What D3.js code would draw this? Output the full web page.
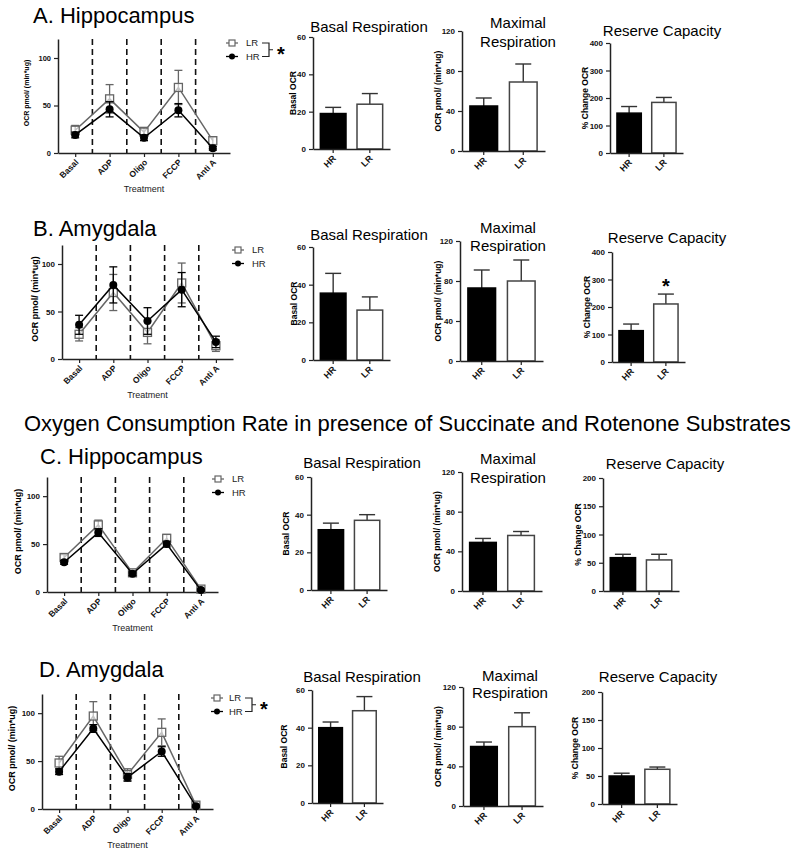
<!DOCTYPE html>
<html>
<head>
<meta charset="utf-8">
<script src="https://cdnjs.cloudflare.com/ajax/libs/d3/7.8.5/d3.min.js"></script>
<style>
  body { margin: 0; background: #fff; }
  svg { font-family: "Liberation Sans", Arial, sans-serif; }
</style>
</head>
<body>
<svg id="fig" width="800" height="859"></svg>
<script>
// categories
var treatments = ["Basal", "ADP", "Oligo", "FCCP", "Anti A"];
var groups = ["HR", "LR"];

// time course (mean, sem) per treatment
var hipLR = [24, 57, 22, 69, 13],   hipLRErr = [5, 15, 5, 18, 4];
var hipHR = [19, 46, 16, 45, 5],    hipHRErr = [3, 8, 3, 7, 2];
var amyLR = [26, 70, 28, 80, 14],   amyLRErr = [7, 19, 12, 21, 6];
var amyHR = [36, 78, 40, 73, 18],   amyHRErr = [10, 19, 14, 18, 6];
var hipSuccLR = [36, 70, 20, 56, 3], hipSuccLRErr = [3, 5, 2, 4, 1];
var hipSuccHR = [31, 62, 19, 50, 2], hipSuccHRErr = [2, 4, 2, 3, 1];
var amySuccLR = [48, 97, 36, 80, 4], amySuccLRErr = [7, 15, 6, 14, 2];
var amySuccHR = [39, 84, 33, 60, 3], amySuccHRErr = [3, 4, 4, 5, 1];

// summary bars [HR, LR]
var basalA = [19, 24],     basalAErr = [3.3, 5.7];
var maximalA = [45, 69],   maximalAErr = [8, 18];
var reserveA = [145, 184], reserveAErr = [24, 18];
var basalB = [35.5, 26.5], basalBErr = [10.5, 7];
var maximalB = [73, 80],   maximalBErr = [18, 21];
var reserveB = [114, 211], reserveBErr = [24, 36];
var basalC = [32, 37],     basalCErr = [3.5, 3];
var maximalC = [49, 56],   maximalCErr = [4, 4];
var reserveC = [59, 55],   reserveCErr = [6, 10];
var basalD = [40, 49],     basalDErr = [3, 7.5];
var maximalD = [60, 80],   maximalDErr = [4.5, 14];
var reserveD = [50, 62],   reserveDErr = [5, 4];

var lineTicks = [0, 50, 100];
var basalTicks = [0, 20, 40, 60];
var maximalTicks = [0, 40, 80, 120];
var reserveTicks400 = [0, 100, 200, 300, 400];
var reserveTicks200 = [0, 50, 100, 150, 200];

var svg = d3.select("#fig");
var AX = "#222";

var linePanels = [
  {title: "A. Hippocampus", tx: 33, ty: 23, x0: 58, x1: 230, y0: 153, y1: 39, lx: 27, lsize: "7px", tsize: "7.5px",
   lr: hipLR, lrErr: hipLRErr, hr: hipHR, hrErr: hipHRErr, legX: 232, legY: 43, legT: 246, star: true},
  {title: "B. Amygdala", tx: 33, ty: 236, x0: 62, x1: 233, y0: 359, y1: 245, lx: 35, lsize: "9px", tsize: "8px",
   lr: amyLR, lrErr: amyLRErr, hr: amyHR, hrErr: amyHRErr, legX: 238, legY: 250, legT: 252, star: false},
  {title: "C. Hippocampus", tx: 40, ty: 464, x0: 47, x1: 218, y0: 592, y1: 477, lx: 18, lsize: "9px", tsize: "8px",
   lr: hipSuccLR, lrErr: hipSuccLRErr, hr: hipSuccHR, hrErr: hipSuccHRErr, legX: 218, legY: 479, legT: 232, star: false},
  {title: "D. Amygdala", tx: 39, ty: 677, x0: 42, x1: 213, y0: 809, y1: 694, lx: 12, lsize: "9px", tsize: "8px",
   lr: amySuccLR, lrErr: amySuccLRErr, hr: amySuccHR, hrErr: amySuccHRErr, legX: 217, legY: 698, legT: 229, star: true}
];

var barPanels = [
  {title: ["Basal Respiration"], cx: 369, ty: [32], x0: 313, x1: 390, y0: 149, y1: 37, max: 60, ticks: basalTicks, label: "Basal  OCR", lx: 293, vals: basalA, errs: basalAErr},
  {title: ["Maximal", "Respiration"], cx: 518, ty: [28, 47], x0: 462, x1: 545, y0: 151, y1: 31, max: 120, ticks: maximalTicks, label: "OCR pmol/ (min*ug)", lx: 438, vals: maximalA, errs: maximalAErr},
  {title: ["Reserve Capacity"], cx: 662, ty: [36], x0: 610, x1: 683, y0: 153, y1: 43, max: 400, ticks: reserveTicks400, label: "%  Change  OCR", lx: 585, vals: reserveA, errs: reserveAErr},

  {title: ["Basal Respiration"], cx: 369, ty: [240], x0: 313, x1: 390, y0: 360, y1: 247, max: 60, ticks: basalTicks, label: "Basal  OCR", lx: 294, vals: basalB, errs: basalBErr},
  {title: ["Maximal", "Respiration"], cx: 508, ty: [233, 251], x0: 460, x1: 543, y0: 361, y1: 241, max: 120, ticks: maximalTicks, label: "OCR pmol/ (min*ug)", lx: 438, vals: maximalB, errs: maximalBErr},
  {title: ["Reserve Capacity"], cx: 667, ty: [243], x0: 612, x1: 685, y0: 362, y1: 252, max: 400, ticks: reserveTicks400, label: "% Change OCR", lx: 587, vals: reserveB, errs: reserveBErr, star: true},

  {title: ["Basal Respiration"], cx: 362, ty: [468], x0: 311, x1: 387, y0: 590, y1: 477, max: 60, ticks: basalTicks, label: "Basal  OCR", lx: 286, vals: basalC, errs: basalCErr},
  {title: ["Maximal", "Respiration"], cx: 508, ty: [464, 483], x0: 462, x1: 542, y0: 591, y1: 472, max: 120, ticks: maximalTicks, label: "OCR pmol/ (min*ug)", lx: 437, vals: maximalC, errs: maximalCErr},
  {title: ["Reserve Capacity"], cx: 665, ty: [469], x0: 603, x1: 679, y0: 591, y1: 478, max: 200, ticks: reserveTicks200, label: "%  Change  OCR", lx: 578, vals: reserveC, errs: reserveCErr},

  {title: ["Basal Respiration"], cx: 362, ty: [682], x0: 312, x1: 383, y0: 803, y1: 690, max: 60, ticks: basalTicks, label: "Basal  OCR", lx: 284, vals: basalD, errs: basalDErr},
  {title: ["Maximal", "Respiration"], cx: 510, ty: [681, 698], x0: 463, x1: 543, y0: 806, y1: 687, max: 120, ticks: maximalTicks, label: "OCR pmol/ (min*ug)", lx: 438, vals: maximalD, errs: maximalDErr},
  {title: ["Reserve Capacity"], cx: 658, ty: [682], x0: 602, x1: 677, y0: 804, y1: 692, max: 200, ticks: reserveTicks200, label: "%  Change  OCR", lx: 575, vals: reserveD, errs: reserveDErr}
];

function styleAxis(sel, size) {
  sel.select(".domain").attr("stroke", AX).attr("stroke-width", 1.5);
  sel.selectAll(".tick line").attr("stroke", AX).attr("stroke-width", 1.2);
  sel.selectAll(".tick text").attr("fill", "#111").style("font-weight", "bold").style("font-size", size);
}

function rotateLabels(sel, size) {
  sel.selectAll(".tick text")
      .attr("x", 0).attr("y", 0).attr("dy", "0.35em").attr("dx", "-1")
      .attr("transform", "translate(2,7) rotate(-45)")
      .style("text-anchor", "end")
      .style("font-size", size);
}

function yLabel(g, text, x, yc, size) {
  g.append("text")
      .attr("transform", "translate(" + x + "," + yc + ") rotate(-90)")
      .attr("dy", "0.35em")
      .attr("text-anchor", "middle")
      .style("font-size", size)
      .style("font-weight", "bold")
      .text(text);
}

function drawLine(p) {
  var g = svg.append("g");
  var x = d3.scalePoint().domain(treatments).range([p.x0, p.x1]).padding(0.5);
  var y = d3.scaleLinear().domain([0, 120]).range([p.y0, p.y1]);
  var step = x.step();

  g.append("text").attr("x", p.tx).attr("y", p.ty).style("font-size", "22px").text(p.title);

  // dashed treatment separators
  g.selectAll(".sep")
      .data(treatments.slice(1))
      .enter().append("line")
      .attr("x1", function(d) { return x(d) - step / 2; })
      .attr("x2", function(d) { return x(d) - step / 2; })
      .attr("y1", p.y1)
      .attr("y2", p.y0)
      .attr("stroke", "#111")
      .attr("stroke-width", 1.6)
      .attr("stroke-dasharray", "6,4");

  var xa = g.append("g")
      .attr("transform", "translate(0," + p.y0 + ")")
      .call(d3.axisBottom(x).tickSize(4).tickSizeOuter(0));
  styleAxis(xa, p.tsize);
  rotateLabels(xa, "8.5px");

  var ya = g.append("g")
      .attr("transform", "translate(" + p.x0 + ",0)")
      .call(d3.axisLeft(y).tickValues(lineTicks).tickSize(4).tickSizeOuter(0));
  styleAxis(ya, p.tsize);

  yLabel(g, "OCR pmol/ (min*ug)", p.lx, (p.y0 + p.y1) / 2 - 3, p.lsize);

  g.append("text")
      .attr("x", (p.x0 + p.x1) / 2)
      .attr("y", p.y0 + 39)
      .attr("text-anchor", "middle")
      .style("font-size", "9px")
      .attr("fill", "#222")
      .text("Treatment");

  var series = [
    {vals: p.lr, errs: p.lrErr, color: "#666", shape: "square"},
    {vals: p.hr, errs: p.hrErr, color: "#000", shape: "circle"}
  ];

  var line = d3.line()
      .x(function(d, i) { return x(treatments[i]); })
      .y(function(d) { return y(d); });

  series.forEach(function(s) {
    var sg = g.append("g");
    sg.append("path")
        .attr("d", line(s.vals))
        .attr("fill", "none")
        .attr("stroke", s.color)
        .attr("stroke-width", 1.5);

    s.vals.forEach(function(v, i) {
      var cx = x(treatments[i]);
      var e = s.errs[i];
      sg.append("line").attr("x1", cx).attr("x2", cx)
          .attr("y1", y(v - e)).attr("y2", y(v + e))
          .attr("stroke", s.color).attr("stroke-width", 1.3);
      [v - e, v + e].forEach(function(t) {
        sg.append("line").attr("x1", cx - 4).attr("x2", cx + 4)
            .attr("y1", y(t)).attr("y2", y(t))
            .attr("stroke", s.color).attr("stroke-width", 1.3);
      });
      if (s.shape === "square") {
        sg.append("rect").attr("x", cx - 4).attr("y", y(v) - 4)
            .attr("width", 8).attr("height", 8)
            .attr("fill", "#fff").attr("fill-opacity", 0.6)
            .attr("stroke", s.color).attr("stroke-width", 1.3);
      } else {
        sg.append("circle").attr("cx", cx).attr("cy", y(v)).attr("r", 4).attr("fill", s.color);
      }
    });
  });

  // legend
  var lg = g.append("g");
  [["LR", "#666", "square"], ["HR", "#000", "circle"]].forEach(function(d, i) {
    var ly = p.legY + i * 13.5;
    lg.append("line").attr("x1", p.legX - 6).attr("x2", p.legX + 6)
        .attr("y1", ly).attr("y2", ly).attr("stroke", d[1]).attr("stroke-width", 1.3);
    if (d[2] === "square") {
      lg.append("rect").attr("x", p.legX - 3).attr("y", ly - 3).attr("width", 6).attr("height", 6)
          .attr("fill", "#fff").attr("stroke", d[1]).attr("stroke-width", 1.2);
    } else {
      lg.append("circle").attr("cx", p.legX).attr("cy", ly).attr("r", 3).attr("fill", d[1]);
    }
    lg.append("text").attr("x", p.legT).attr("y", ly).attr("dy", "0.35em")
        .style("font-size", "9.5px").attr("fill", "#222").text(d[0]);
  });

  if (p.star) {
    var bx = p.legT + 16, top = p.legY, bot = p.legY + 13.5, mid = (top + bot) / 2;
    lg.append("path")
        .attr("d", "M" + bx + "," + top + "H" + (bx + 7) + "V" + bot + "H" + bx +
                   "M" + (bx + 7) + "," + mid + "H" + (bx + 11))
        .attr("fill", "none").attr("stroke", "#222").attr("stroke-width", 1.2);
    lg.append("text").attr("x", bx + 19).attr("y", mid + 11)
        .attr("text-anchor", "middle").style("font-size", "20px").style("font-weight", "bold").text("*");
  }
}

function drawBars(p) {
  var g = svg.append("g");
  var x = d3.scaleBand().domain(groups).range([p.x0, p.x1]).paddingInner(0.3).paddingOuter(0.2);
  var y = d3.scaleLinear().domain([0, p.max]).range([p.y0, p.y1]);

  p.title.forEach(function(t, i) {
    g.append("text").attr("x", p.cx).attr("y", p.ty[i])
        .attr("text-anchor", "middle").style("font-size", "15px").text(t);
  });

  // error bars (upper only)
  groups.forEach(function(k, i) {
    var cx = x(k) + x.bandwidth() / 2;
    var top = y(p.vals[i] + p.errs[i]);
    g.append("line").attr("x1", cx).attr("x2", cx).attr("y1", y(p.vals[i])).attr("y2", top)
        .attr("stroke", "#333").attr("stroke-width", 1.4);
    g.append("line").attr("x1", cx - 8).attr("x2", cx + 8).attr("y1", top).attr("y2", top)
        .attr("stroke", "#333").attr("stroke-width", 1.4);
  });

  g.selectAll(".bar")
      .data(p.vals)
      .enter().append("rect")
      .attr("x", function(d, i) { return x(groups[i]); })
      .attr("y", function(d) { return y(d); })
      .attr("width", x.bandwidth())
      .attr("height", function(d) { return p.y0 - y(d); })
      .attr("fill", function(d, i) { return i === 0 ? "#000" : "#fff"; })
      .attr("stroke", function(d, i) { return i === 0 ? "#000" : "#444"; })
      .attr("stroke-width", 1.5);

  var xa = g.append("g")
      .attr("transform", "translate(0," + p.y0 + ")")
      .call(d3.axisBottom(x).tickSize(4).tickSizeOuter(0));
  styleAxis(xa, "9px");
  rotateLabels(xa, "9px");

  var ya = g.append("g")
      .attr("transform", "translate(" + p.x0 + ",0)")
      .call(d3.axisLeft(y).tickValues(p.ticks).tickSize(4).tickSizeOuter(0));
  styleAxis(ya, "8px");

  yLabel(g, p.label, p.lx, (p.y0 + p.y1) / 2, "8.5px");

  if (p.star) {
    var sx = x("LR") + x.bandwidth() / 2;
    g.append("text").attr("x", sx).attr("y", y(p.vals[1] + p.errs[1]) - 1)
        .attr("text-anchor", "middle").style("font-size", "20px").style("font-weight", "bold").text("*");
  }
}

linePanels.forEach(drawLine);
barPanels.forEach(drawBars);

svg.append("text")
    .attr("x", 24)
    .attr("y", 431)
    .style("font-size", "22px")
    .text("Oxygen Consumption Rate in presence of Succinate and Rotenone Substrates");
</script>
</body>
</html>
